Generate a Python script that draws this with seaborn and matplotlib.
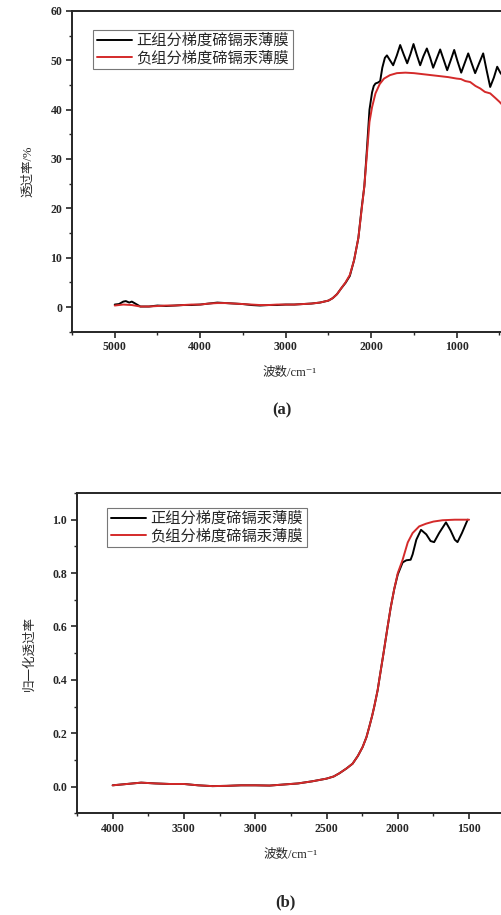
import numpy as np
import pandas as pd
import matplotlib
matplotlib.use('Agg')
import matplotlib.pyplot as plt
import seaborn as sns
from matplotlib.ticker import MultipleLocator

# ---- panel (a): transmittance / %
a_pos_wn = [5000, 4950, 4900, 4870, 4830, 4800, 4750, 4700, 4600, 4500, 4400, 4300, 4200, 4100,
            4000, 3900, 3800, 3700, 3600, 3500, 3400, 3300, 3200, 3100, 3000, 2900, 2800, 2700,
            2600, 2500, 2450, 2400, 2350, 2300, 2250, 2200, 2150, 2110, 2080, 2050, 2020, 1990,
            1970, 1950, 1920, 1895, 1870, 1840, 1816, 1780, 1743, 1700, 1661, 1620, 1579, 1540,
            1505, 1465, 1427, 1390, 1349, 1310, 1275, 1235, 1193, 1150, 1111, 1070, 1029, 990,
            947, 905, 865, 825, 784, 735, 690, 650, 608, 565, 526, 490, 468]
a_pos_t = [0.5, 0.6, 1.1, 1.2, 0.9, 1.1, 0.6, 0.1, 0.1, 0.3, 0.2, 0.3, 0.4, 0.4,
           0.5, 0.7, 0.9, 0.8, 0.7, 0.6, 0.4, 0.3, 0.4, 0.4, 0.5, 0.5, 0.6, 0.7,
           0.9, 1.3, 1.8, 2.6, 3.8, 4.9, 6.3, 9.5, 14.0, 20.3, 24.5, 32.0, 40.0, 43.5,
           44.8, 45.3, 45.5, 45.8, 48.5, 50.5, 51.0, 50.0, 49.0, 51.0, 53.1, 51.2, 49.4, 51.3,
           53.3, 51.0, 49.0, 50.8, 52.4, 50.5, 48.5, 50.3, 52.2, 50.0, 48.0, 50.0, 52.1, 49.8,
           47.5, 49.5, 51.4, 49.4, 47.4, 49.5, 51.4, 48.0, 44.6, 46.5, 48.7, 47.5, 47.0]

a_neg_wn = [5000, 4900, 4800, 4700, 4600, 4500, 4400, 4300, 4200, 4100, 4000, 3900, 3800, 3700,
            3600, 3500, 3400, 3300, 3200, 3100, 3000, 2900, 2800, 2700, 2600, 2500, 2450, 2400,
            2350, 2300, 2250, 2200, 2150, 2110, 2080, 2050, 2020, 1990, 1950, 1900, 1850, 1780,
            1700, 1600, 1500, 1400, 1300, 1200, 1100, 1000, 950, 900, 842, 780, 725, 670, 608,
            550, 500, 468]
a_neg_t = [0.3, 0.5, 0.4, 0.1, 0.1, 0.2, 0.3, 0.3, 0.4, 0.5, 0.5, 0.7, 0.8, 0.8,
           0.7, 0.6, 0.5, 0.4, 0.4, 0.5, 0.5, 0.5, 0.6, 0.7, 0.9, 1.3, 1.8, 2.6,
           3.8, 5.0, 6.5, 9.5, 14.0, 20.0, 24.5, 31.0, 37.5, 40.5, 43.3, 45.2, 46.3, 47.0,
           47.4, 47.5, 47.4, 47.2, 47.0, 46.8, 46.6, 46.3, 46.2, 45.8, 45.6, 44.8, 44.3, 43.6, 43.3,
           42.4, 41.6, 41.0]

# ---- panel (b): normalised transmittance
b_pos_wn = [4000, 3900, 3800, 3700, 3600, 3500, 3400, 3300, 3200, 3100, 3000, 2900, 2800, 2700,
            2600, 2500, 2450, 2410, 2360, 2317, 2280, 2247, 2220, 2200, 2180, 2165, 2141, 2130,
            2100, 2071, 2050, 2025, 2000, 1966, 1940, 1910, 1896, 1870, 1837, 1800, 1770, 1745,
            1710, 1662, 1630, 1600, 1581, 1550, 1510]
b_pos_t = [0.005, 0.010, 0.015, 0.012, 0.010, 0.010, 0.005, 0.002, 0.003, 0.005, 0.005, 0.004,
           0.008, 0.012, 0.020, 0.030, 0.038, 0.050, 0.068, 0.086, 0.115, 0.148, 0.185, 0.224,
           0.265, 0.300, 0.362, 0.400, 0.500, 0.600, 0.670, 0.740, 0.795, 0.840, 0.848, 0.850,
           0.870, 0.925, 0.962, 0.945, 0.920, 0.916, 0.950, 0.990, 0.960, 0.925, 0.916, 0.950, 1.000]

b_neg_wn = [4000, 3900, 3800, 3700, 3600, 3500, 3400, 3300, 3200, 3100, 3000, 2900, 2800, 2700,
            2600, 2500, 2450, 2410, 2360, 2317, 2280, 2247, 2220, 2200, 2180, 2165, 2141, 2130,
            2100, 2071, 2050, 2025, 2000, 1966, 1930, 1896, 1850, 1802, 1750, 1686, 1600, 1500]
b_neg_t = [0.005, 0.010, 0.015, 0.012, 0.010, 0.010, 0.005, 0.002, 0.003, 0.005, 0.005, 0.004,
           0.008, 0.012, 0.020, 0.030, 0.038, 0.050, 0.068, 0.086, 0.115, 0.148, 0.185, 0.224,
           0.265, 0.300, 0.362, 0.400, 0.500, 0.600, 0.670, 0.740, 0.800, 0.850, 0.915, 0.950,
           0.975, 0.985, 0.993, 0.998, 1.000, 1.000]

names = ['正组分梯度碲镉汞薄膜', '负组分梯度碲镉汞薄膜']
colors = {names[0]: 'black', names[1]: '#d42a2a'}

sns.set_style('ticks')
plt.rcParams['font.family'] = ['Liberation Serif', 'Noto Sans CJK SC', 'DejaVu Sans']
plt.rcParams['axes.linewidth'] = 1.4

def make_df(wn1, t1, wn2, t2):
    d1 = pd.DataFrame({'wn': wn1, 't': t1, 'film': names[0]})
    d2 = pd.DataFrame({'wn': wn2, 't': t2, 'film': names[1]})
    return pd.concat([d1, d2], ignore_index=True)

df_a = make_df(a_pos_wn, a_pos_t, a_neg_wn, a_neg_t)
df_b = make_df(b_pos_wn, b_pos_t, b_neg_wn, b_neg_t)

fig = plt.figure(figsize=(5.02, 9.15), dpi=100)
ax1 = fig.add_axes([0.1434, 0.6375, 0.8685, 0.3505])
ax2 = fig.add_axes([0.1534, 0.1111, 0.852, 0.3501])

sns.lineplot(data=df_a, x='wn', y='t', hue='film', palette=colors, sort=False,
             estimator=None, linewidth=1.4, ax=ax1)
sns.lineplot(data=df_b, x='wn', y='t', hue='film', palette=colors, sort=False,
             estimator=None, linewidth=1.4, ax=ax2)

ax1.set_xlim(5500, 400)
ax1.set_ylim(-5, 60)
ax1.xaxis.set_major_locator(MultipleLocator(1000))
ax1.xaxis.set_minor_locator(MultipleLocator(500))
ax1.yaxis.set_major_locator(MultipleLocator(10))
ax1.yaxis.set_minor_locator(MultipleLocator(5))
ax1.set_ylabel('透过率/%', fontsize=9, labelpad=12)

ax2.set_xlim(4250, 1250)
ax2.set_ylim(-0.1, 1.1)
ax2.xaxis.set_major_locator(MultipleLocator(500))
ax2.xaxis.set_minor_locator(MultipleLocator(250))
ax2.yaxis.set_major_locator(MultipleLocator(0.2))
ax2.yaxis.set_minor_locator(MultipleLocator(0.1))
ax2.yaxis.set_major_formatter(matplotlib.ticker.FormatStrFormatter('%.1f'))
ax2.set_ylabel('归一化透过率', fontsize=9, labelpad=12)

for ax, lx, ly in [(ax1, 0.048, 0.941), (ax2, 0.070, 0.953)]:
    for s in ['top', 'left', 'bottom']:
        ax.spines[s].set_visible(True)
    ax.spines['right'].set_visible(False)
    ax.set_xlabel('波数/cm⁻¹', fontsize=9, labelpad=10)
    ax.tick_params(which='major', direction='out', length=4, width=1.2, labelsize=8.5, pad=3)
    ax.tick_params(which='minor', direction='out', length=2.5, width=1.0)
    for lab in ax.get_xticklabels() + ax.get_yticklabels():
        lab.set_fontweight('bold')
    leg = ax.legend(loc='upper left', bbox_to_anchor=(lx, ly), borderaxespad=0,
                    fontsize=11, frameon=True, fancybox=False, borderpad=0.25,
                    labelspacing=0.15, handlelength=2.3, handletextpad=0.3)
    leg.get_frame().set_edgecolor('#555555')
    leg.get_frame().set_linewidth(0.8)

fig.text(0.562, 1 - 410 / 915, '(a)', ha='center', va='center', fontsize=12, fontweight='bold')
fig.text(0.568, 1 - 902 / 915, '(b)', ha='center', va='center', fontsize=12, fontweight='bold')

fig.savefig('out.png', dpi=100)
